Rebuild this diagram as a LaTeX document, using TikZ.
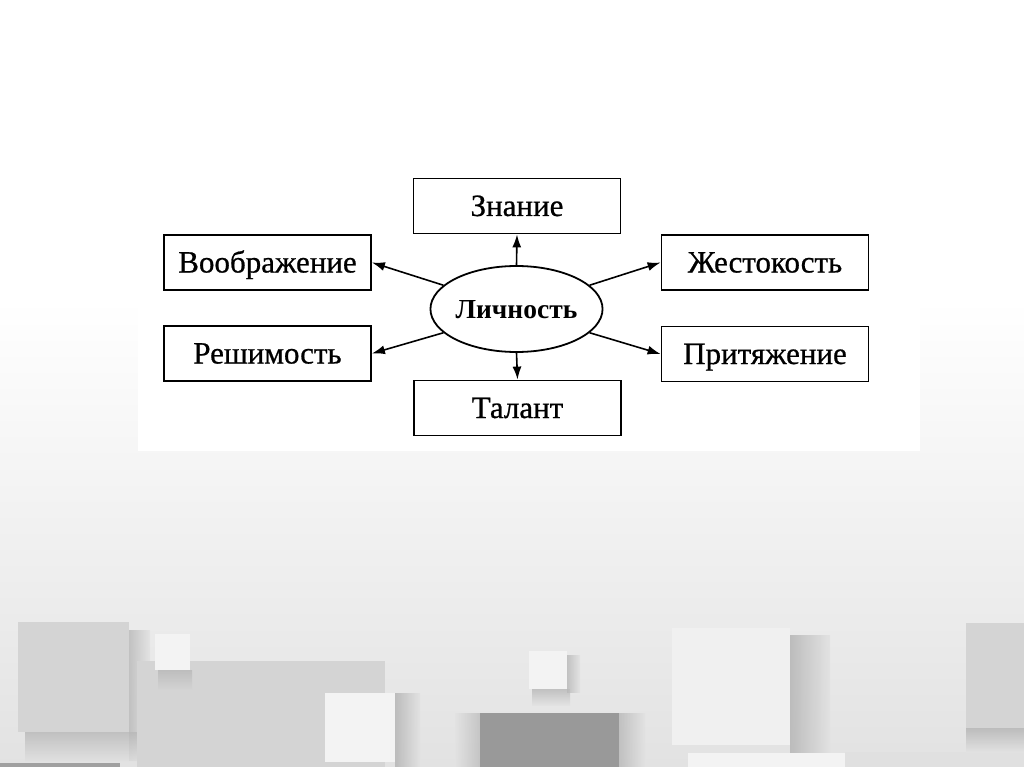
\documentclass[tikz,border=0pt]{standalone}
\usepackage{fontspec}
\setmainfont{Liberation Serif}
\newfontfamily\scanfont[FakeBold=0.7]{Liberation Serif}
\usetikzlibrary{shapes.geometric,arrows.meta}
\definecolor{bgmid}{HTML}{F2F2F2}
\definecolor{bgbot}{HTML}{E2E2E2}
\definecolor{sqlight}{HTML}{D4D4D4}
\definecolor{sqwhite}{HTML}{F3F3F3}
\definecolor{sqwhiteb}{HTML}{F0F0F0}
\definecolor{sqgrey}{HTML}{E0E0E0}
\definecolor{sqdark}{HTML}{999999}
\definecolor{stripc}{HTML}{A0A0A0}
\definecolor{shadowc}{HTML}{B8B8B8}
\tikzset{
  box/.style={draw=black, line width=1.8pt, fill=white, minimum width=207pt, minimum height=55pt, inner sep=0pt, text height=20pt, text depth=0pt, font=\scanfont\fontsize{31}{34}\selectfont},
  core/.style={draw=black, line width=1.8pt, ellipse, fill=white, minimum width=169pt, minimum height=86pt, inner sep=0pt, text height=18pt, text depth=0pt, font=\bfseries\fontsize{27.5}{30}\selectfont},
  link/.style={line width=1.6pt, -{Latex[length=13pt,width=9pt]}}
}
\begin{document}
\begin{tikzpicture}[x=1pt,y=-1pt]
\useasboundingbox (0,0) rectangle (1024,767);
% background
\fill[white] (0,0) rectangle (1024,301);
\shade[top color=white, middle color=bgmid, bottom color=bgbot] (0,300) rectangle (1024,767);
% panel
\fill[white] (138,150) rectangle (920,451);
% decorative squares with soft shadows
\shade[left color=shadowc, right color=bgbot, opacity=0.8] (129,630) rectangle (150,760);
\shade[top color=shadowc, bottom color=bgbot, opacity=0.8] (25,732) rectangle (140,762);
\fill[sqlight] (137,661) rectangle (385,767);
\fill[sqlight] (18,622) rectangle (129,732);
\shade[top color=shadowc, bottom color=sqlight, opacity=0.8] (158,670) rectangle (192,690);
\fill[sqwhite] (155,634) rectangle (190,670);
\shade[left color=shadowc, right color=bgbot, opacity=0.9] (395,693) rectangle (420,767);
\fill[sqwhite] (325,693) rectangle (395,762);
\shade[left color=bgbot, right color=shadowc, opacity=0.7] (455,713) rectangle (480,767);
\shade[left color=shadowc, right color=bgbot, opacity=0.8] (619,713) rectangle (645,767);
\fill[sqdark] (480,713) rectangle (619,767);
\shade[top color=shadowc, bottom color=bgbot, opacity=0.8] (532,689) rectangle (570,705);
\shade[left color=shadowc, right color=bgbot, opacity=0.8] (567,655) rectangle (580,692);
\fill[sqwhite] (529,651) rectangle (567,689);
\shade[left color=shadowc, right color=bgbot, opacity=0.9] (790,635) rectangle (830,752);
\fill[sqwhiteb] (672,628) rectangle (790,745);
\fill[sqwhite] (688,753) rectangle (845,767);
\fill[sqgrey] (845,752) rectangle (1024,767);
\shade[top color=shadowc, bottom color=bgbot, opacity=0.9] (966,728) rectangle (1024,752);
\fill[sqlight] (966,623) rectangle (1024,728);
\fill[stripc] (0,763) rectangle (120,767);
% diagram
\node[core] (p) at (516.5,309) {Личность};
\node[box] (zn) at (517,206) {Знание};
\node[box] (vo) at (267.5,262.5) {Воображение};
\node[box] (re) at (267.5,353.5) {Решимость};
\node[box] (ta) at (517.5,408) {Талант};
\node[box] (zh) at (765,262.5) {Жестокость};
\node[box] (pr) at (765,354) {Притяжение};
\draw[link] (p.north) -- (zn.south);
\draw[link] (p.south) -- (ta.north);
\draw[link] (p.162) -- (vo.east);
\draw[link] (p.198) -- (re.east);
\draw[link] (p.18) -- (zh.west);
\draw[link] (p.-18) -- (pr.west);
\end{tikzpicture}
\end{document}
